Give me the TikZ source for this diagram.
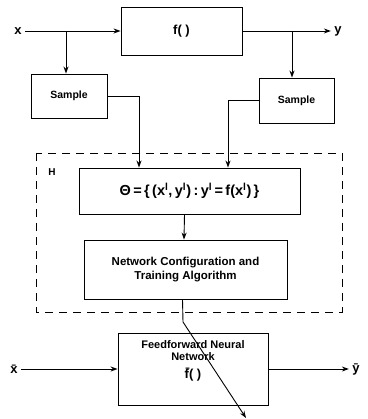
\documentclass[tikz,border=0pt]{standalone}
\usepackage{fontspec}
\setmainfont{Liberation Sans}
\usetikzlibrary{arrows.meta,calc}

\tikzset{
  blockbox/.style={draw,line width=0.9pt,align=center,inner sep=2pt},
  flow/.style={line width=0.9pt,-{Stealth[length=7pt,width=5pt]}},
  wire/.style={line width=0.9pt},
  lbl/.style={font=\bfseries\fontsize{13}{15}\selectfont}
}

\begin{document}
\begin{tikzpicture}[x=1pt,y=-1pt]

      \useasboundingbox (0,0) rectangle (367,419);

      % blocks
      \node[blockbox,minimum width=121pt,minimum height=48pt,font=\bfseries\fontsize{13}{15}\selectfont] (f) at (181.5,31) {f( )};
      \node[blockbox,minimum width=76pt,minimum height=44pt,font=\bfseries\fontsize{10.5}{12}\selectfont] (sl) at (69,96) {Sample};
      \node[blockbox,minimum width=75pt,minimum height=45pt,font=\bfseries\fontsize{10.5}{12}\selectfont] (sr) at (296.5,100.5) {Sample};
      \node[blockbox,minimum width=221pt,minimum height=46pt,font=\bfseries\fontsize{14.5}{16}\selectfont] (theta) at (189.5,191)
        {Θ\,=\,\{\,(x\textsuperscript{l},\,y\textsuperscript{l})\,:\,y\textsuperscript{l}\,=\,f(x\textsuperscript{l})\,\}};
      \node[blockbox,minimum width=203pt,minimum height=59pt,font=\bfseries\fontsize{11.5}{14}\selectfont] (net) at (185.5,269.5)
        {Network Configuration and\\Training Algorithm};
      \node[blockbox,minimum width=150pt,minimum height=72pt,font=\bfseries\fontsize{11}{12}\selectfont] (ff) at (193,369)
        {Feedforward Neural\\Network\\[6pt]{\fontsize{13}{15}\selectfont\={f}( )}\\[6pt]\mbox{}};

      % dashed frame H
      \draw[wire,dash pattern=on 8pt off 6pt] (36,153) rectangle (342,312);
      \node[lbl,font=\bfseries\fontsize{10}{12}\selectfont] (hlab) at (52,172) {H};

      % signals
      \node[lbl] (xin) at (18,31) {x};
      \node[lbl] (yout) at (338,31) {y};
      \node[lbl] (xbar) at (14,369) {\={x}};
      \node[lbl] (ybar) at (356,369) {\={y}};

      \coordinate (brx) at (66,31);
      \coordinate (bry) at (292,31);
      \coordinate (bend) at (183,322);
      \coordinate (tip) at (246,418);

      \draw[flow] (xin) -- (f.west);
      \draw[flow] (f.east) -- (yout);
      \draw[flow] (brx) -- (brx |- sl.north);
      \draw[flow] (bry) -- (bry |- sr.north);

      \draw[flow] (sl.east) -| ([xshift=-50.5pt]theta.north);
      \draw[flow] (sr.west) -| ([xshift=38.5pt]theta.north);
      \draw[flow] ([xshift=-5pt]theta.south) -- ([xshift=-1.5pt]net.north);
      \draw[flow] ([xshift=-3pt]net.south) -- (bend) -- (tip);

      \draw[flow] (xbar) -- (ff.west);
      \draw[flow] (ff.east) -- (ybar);

\end{tikzpicture}
\end{document}
